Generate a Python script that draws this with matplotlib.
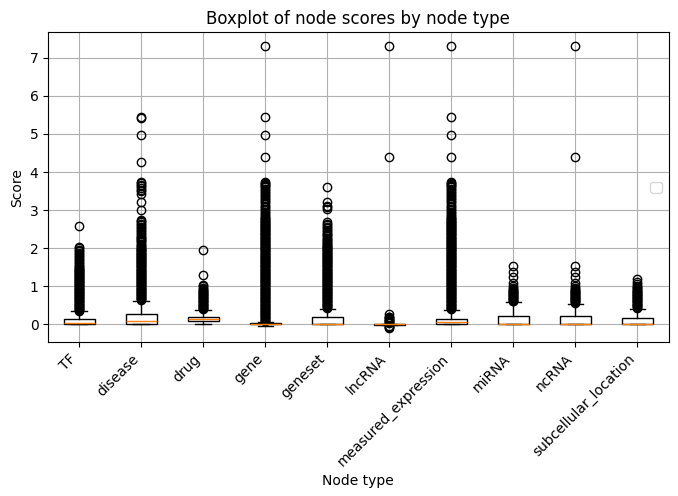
import matplotlib
matplotlib.use('Agg')
import matplotlib.pyplot as plt

node_types = ['TF', 'disease', 'drug', 'gene', 'geneset', 'lncRNA',
              'measured_expression', 'miRNA', 'ncRNA', 'subcellular_location']

# box statistics
q1 = [0.0, 0.0, 0.08, 0.0, 0.0, -0.01, 0.0, 0.0, 0.0, 0.0]
med = [0.035, 0.085, 0.14, 0.015, 0.02, 0.0, 0.05, 0.0, 0.0, 0.0]
q3 = [0.14, 0.28, 0.19, 0.04, 0.18, 0.01, 0.15, 0.22, 0.22, 0.16]
whislo = [0.0, 0.0, 0.0, -0.04, 0.0, -0.02, 0.0, 0.0, 0.0, 0.0]
whishi = [0.34, 0.62, 0.38, 0.07, 0.41, 0.02, 0.37, 0.58, 0.54, 0.41]

# outliers (dense columns read as closely packed points)
tf_out = [0.36, 0.38, 0.40, 0.42, 0.44, 0.46, 0.48, 0.50, 0.52, 0.54,
          0.56, 0.58, 0.60, 0.62, 0.64, 0.66, 0.68, 0.70, 0.72, 0.74,
          0.76, 0.78, 0.80, 0.82, 0.84, 0.86, 0.88, 0.90, 0.92, 0.94,
          0.96, 0.98, 1.00, 1.02, 1.04, 1.06, 1.08, 1.10, 1.12, 1.14,
          1.16, 1.18, 1.20, 1.22, 1.24, 1.26, 1.28, 1.30, 1.32, 1.34,
          1.36, 1.38, 1.40, 1.42, 1.44, 1.46, 1.48, 1.50, 1.53, 1.56,
          1.60, 1.64, 1.68, 1.72, 1.76, 1.80, 1.84, 1.88, 1.92, 1.96,
          2.00, 2.04, 2.57]
disease_out = [0.64, 0.66, 0.68, 0.70, 0.72, 0.74, 0.76, 0.78, 0.80, 0.82,
               0.84, 0.86, 0.88, 0.90, 0.92, 0.94, 0.96, 0.98, 1.00, 1.02,
               1.04, 1.06, 1.08, 1.10, 1.12, 1.14, 1.16, 1.18, 1.20, 1.22,
               1.24, 1.26, 1.28, 1.30, 1.32, 1.34, 1.36, 1.38, 1.40, 1.42,
               1.44, 1.46, 1.48, 1.50, 1.52, 1.54, 1.56, 1.58, 1.60, 1.62,
               1.64, 1.66, 1.68, 1.70, 1.72, 1.74, 1.76, 1.78, 1.80, 1.82,
               1.84, 1.86, 1.88, 1.90, 1.92, 1.94, 1.96, 1.98, 2.00, 2.03,
               2.06, 2.09, 2.12, 2.15, 2.18, 2.21, 2.24, 2.27, 2.30, 2.33,
               2.36, 2.40, 2.44, 2.48, 2.52, 2.56, 2.60, 2.64, 2.68, 2.72,
               2.75, 3.00, 3.22, 3.41, 3.50, 3.54, 3.58, 3.62, 3.66, 3.70,
               3.74, 4.27, 4.97, 5.42, 5.45]
drug_out = [0.40, 0.42, 0.44, 0.46, 0.48, 0.50, 0.52, 0.54, 0.56, 0.58,
            0.60, 0.62, 0.64, 0.66, 0.68, 0.70, 0.72, 0.74, 0.76, 0.78,
            0.80, 0.82, 0.84, 0.86, 0.88, 0.90, 0.93, 0.96, 1.00, 1.02,
            1.29, 1.95]
gene_out = [0.08, 0.10, 0.12, 0.14, 0.16, 0.18, 0.20, 0.22, 0.24, 0.26,
            0.28, 0.30, 0.32, 0.34, 0.36, 0.38, 0.40, 0.42, 0.44, 0.46,
            0.48, 0.50, 0.52, 0.54, 0.56, 0.58, 0.60, 0.62, 0.64, 0.66,
            0.68, 0.70, 0.72, 0.74, 0.76, 0.78, 0.80, 0.82, 0.84, 0.86,
            0.88, 0.90, 0.92, 0.94, 0.96, 0.98, 1.00, 1.02, 1.04, 1.06,
            1.08, 1.10, 1.12, 1.14, 1.16, 1.18, 1.20, 1.22, 1.24, 1.26,
            1.28, 1.30, 1.32, 1.34, 1.36, 1.38, 1.40, 1.42, 1.44, 1.46,
            1.48, 1.50, 1.52, 1.54, 1.56, 1.58, 1.60, 1.62, 1.64, 1.66,
            1.68, 1.70, 1.72, 1.74, 1.76, 1.78, 1.80, 1.82, 1.84, 1.86,
            1.88, 1.90, 1.92, 1.94, 1.96, 1.98, 2.00, 2.02, 2.04, 2.06,
            2.08, 2.10, 2.12, 2.14, 2.16, 2.18, 2.20, 2.22, 2.24, 2.26,
            2.28, 2.30, 2.32, 2.34, 2.36, 2.38, 2.40, 2.42, 2.44, 2.46,
            2.48, 2.50, 2.52, 2.54, 2.56, 2.58, 2.60, 2.62, 2.64, 2.66,
            2.68, 2.70, 2.72, 2.74, 2.76, 2.78, 2.80, 2.84, 2.88, 2.92,
            2.96, 3.00, 3.04, 3.08, 3.12, 3.16, 3.20, 3.24, 3.28, 3.32,
            3.36, 3.40, 3.44, 3.48, 3.52, 3.56, 3.60, 3.63, 3.66, 3.69,
            3.72, 3.75, 4.40, 4.97, 5.45, 7.30]
geneset_out = [0.44, 0.46, 0.48, 0.50, 0.52, 0.54, 0.56, 0.58, 0.60, 0.62,
               0.64, 0.66, 0.68, 0.70, 0.72, 0.74, 0.76, 0.78, 0.80, 0.82,
               0.84, 0.86, 0.88, 0.90, 0.92, 0.94, 0.96, 0.98, 1.00, 1.02,
               1.04, 1.06, 1.08, 1.10, 1.12, 1.14, 1.16, 1.18, 1.20, 1.22,
               1.24, 1.26, 1.28, 1.30, 1.32, 1.34, 1.36, 1.38, 1.40, 1.42,
               1.44, 1.46, 1.48, 1.50, 1.52, 1.54, 1.56, 1.58, 1.60, 1.62,
               1.64, 1.66, 1.68, 1.70, 1.72, 1.74, 1.76, 1.78, 1.80, 1.82,
               1.84, 1.86, 1.88, 1.90, 1.92, 1.94, 1.96, 1.98, 2.00, 2.02,
               2.04, 2.06, 2.08, 2.10, 2.13, 2.16, 2.19, 2.22, 2.25, 2.28,
               2.31, 2.34, 2.37, 2.40, 2.44, 2.48, 2.52, 2.56, 2.60, 2.64,
               2.68, 3.02, 3.08, 3.10, 3.21, 3.61]
lncrna_out = [-0.10, -0.08, -0.06, -0.04, 0.04, 0.06, 0.08, 0.10, 0.12, 0.14,
              0.16, 0.18, 0.20, 0.28, 4.40, 7.30]
expr_out = [0.40, 0.42, 0.44, 0.46, 0.48, 0.50, 0.52, 0.54, 0.56, 0.58,
            0.60, 0.62, 0.64, 0.66, 0.68, 0.70, 0.72, 0.74, 0.76, 0.78,
            0.80, 0.82, 0.84, 0.86, 0.88, 0.90, 0.92, 0.94, 0.96, 0.98,
            1.00, 1.02, 1.04, 1.06, 1.08, 1.10, 1.12, 1.14, 1.16, 1.18,
            1.20, 1.22, 1.24, 1.26, 1.28, 1.30, 1.32, 1.34, 1.36, 1.38,
            1.40, 1.42, 1.44, 1.46, 1.48, 1.50, 1.52, 1.54, 1.56, 1.58,
            1.60, 1.62, 1.64, 1.66, 1.68, 1.70, 1.72, 1.74, 1.76, 1.78,
            1.80, 1.82, 1.84, 1.86, 1.88, 1.90, 1.92, 1.94, 1.96, 1.98,
            2.00, 2.02, 2.04, 2.06, 2.08, 2.10, 2.12, 2.14, 2.16, 2.18,
            2.20, 2.22, 2.24, 2.26, 2.28, 2.30, 2.32, 2.34, 2.36, 2.38,
            2.40, 2.42, 2.44, 2.46, 2.48, 2.50, 2.52, 2.54, 2.56, 2.58,
            2.60, 2.62, 2.64, 2.66, 2.68, 2.70, 2.72, 2.74, 2.76, 2.78,
            2.80, 2.84, 2.88, 2.92, 2.96, 3.00, 3.04, 3.08, 3.12, 3.16,
            3.20, 3.24, 3.28, 3.32, 3.36, 3.40, 3.44, 3.48, 3.52, 3.56,
            3.60, 3.63, 3.66, 3.69, 3.72, 3.75, 4.40, 4.97, 5.45, 7.30]
mirna_out = [0.60, 0.62, 0.64, 0.66, 0.68, 0.70, 0.72, 0.74, 0.76, 0.78,
             0.80, 0.82, 0.84, 0.86, 0.88, 0.90, 0.93, 0.96, 1.00, 1.09,
             1.23, 1.38, 1.54]
ncrna_out = [0.56, 0.58, 0.60, 0.62, 0.64, 0.66, 0.68, 0.70, 0.72, 0.74,
             0.76, 0.78, 0.80, 0.82, 0.84, 0.86, 0.88, 0.90, 0.93, 0.96,
             1.00, 1.09, 1.23, 1.38, 1.54, 4.40, 7.30]
subcell_out = [0.44, 0.46, 0.48, 0.50, 0.52, 0.54, 0.56, 0.58, 0.60, 0.62,
               0.64, 0.66, 0.68, 0.70, 0.72, 0.74, 0.76, 0.78, 0.80, 0.82,
               0.84, 0.86, 0.88, 0.90, 0.92, 0.95, 0.98, 1.01, 1.05, 1.12,
               1.19]

fliers = [tf_out, disease_out, drug_out, gene_out, geneset_out, lncrna_out,
          expr_out, mirna_out, ncrna_out, subcell_out]

stats = []
for i, name in enumerate(node_types):
    stats.append({'label': name, 'q1': q1[i], 'med': med[i], 'q3': q3[i],
                  'whislo': whislo[i], 'whishi': whishi[i], 'fliers': fliers[i]})

fig, ax = plt.subplots(figsize=(6.78, 4.96), dpi=100)
ax.bxp(stats, widths=0.5, patch_artist=True,
       boxprops=dict(facecolor='white', edgecolor='black'),
       medianprops=dict(color='C1', zorder=3))

ax.set_title('Boxplot of node scores by node type')
ax.set_xlabel('Node type')
ax.set_ylabel('Score')
plt.xticks(rotation=45, ha='right')
ax.grid(True)
ax.legend(handles=[], loc='center right')
fig.subplots_adjust(left=0.071, right=0.986, top=0.935, bottom=0.31)
plt.savefig('out.png')
